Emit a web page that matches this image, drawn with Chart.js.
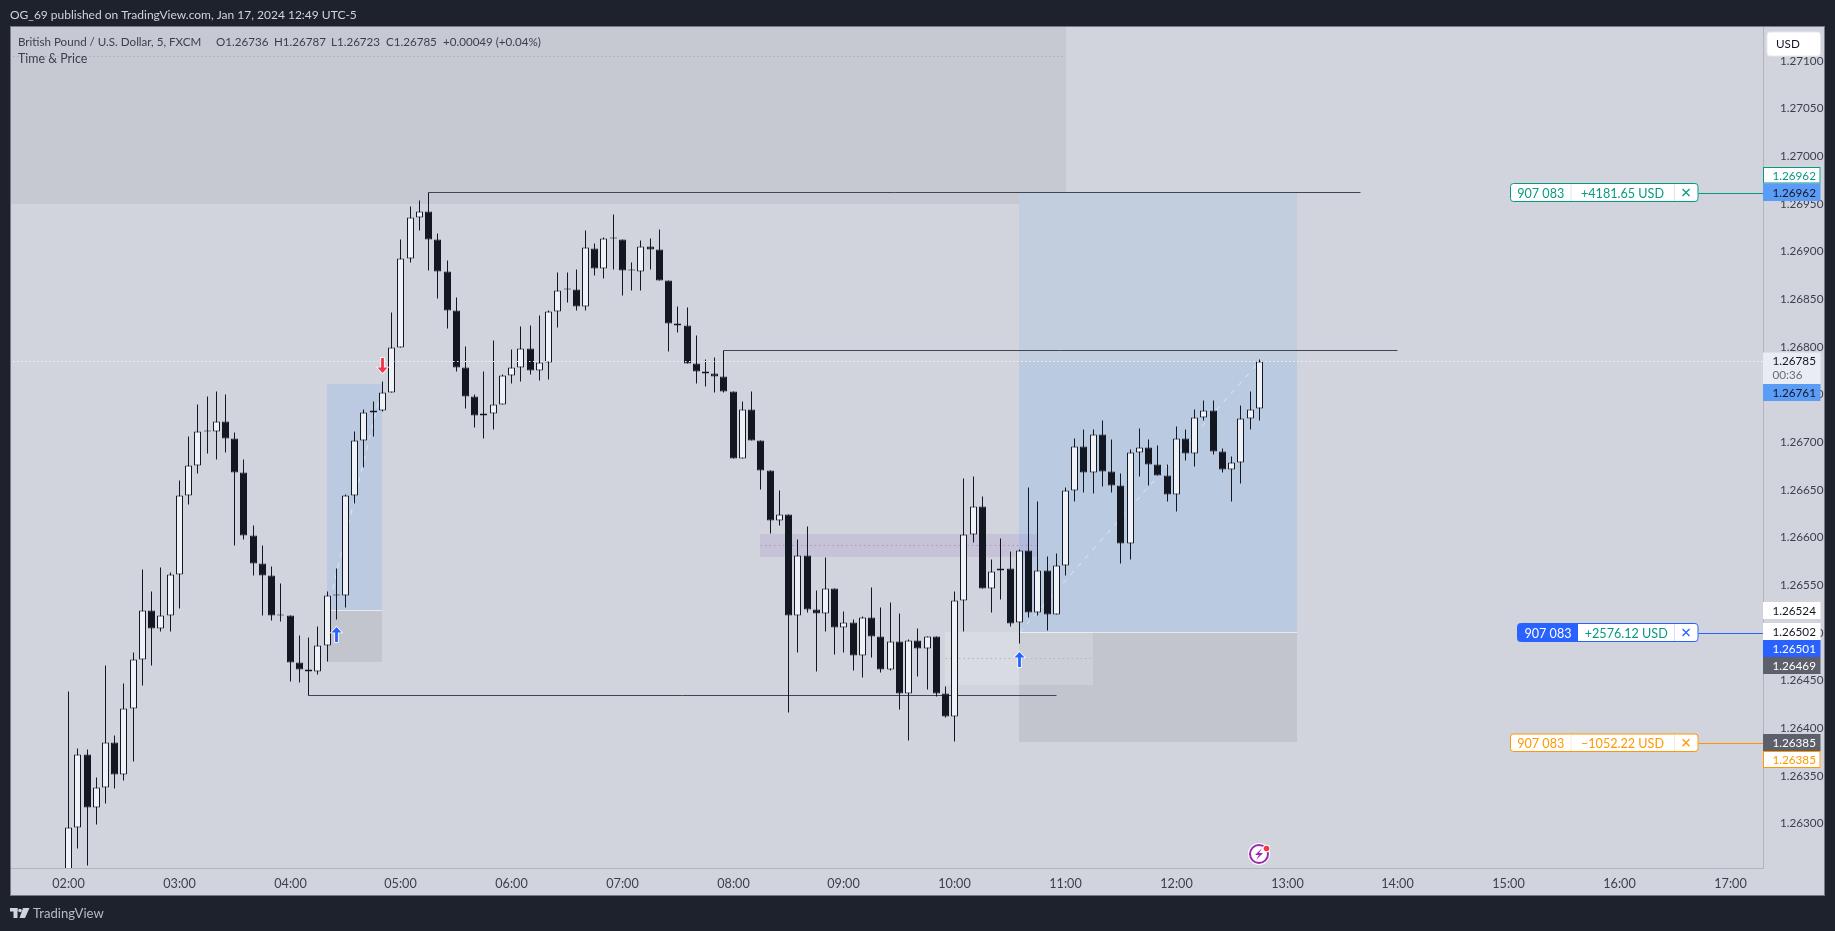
<!DOCTYPE html>
<html><head><meta charset="utf-8">
<style>html,body{margin:0;padding:0;background:#1e222d;overflow:hidden}canvas{display:block}</style>
<script src="https://cdn.jsdelivr.net/npm/chart.js@4"></script>
</head><body><div style="width:1835px;height:931px"><canvas id="c" width="1835" height="931"></canvas></div>
<script>
const startTime = '02:00';
const hourLabels = ['02:00','03:00','04:00','05:00','06:00','07:00','08:00','09:00','10:00','11:00','12:00','13:00','14:00','15:00','16:00','17:00'];
const priceTicks = [1.263,1.2635,1.264,1.2645,1.265,1.2655,1.266,1.2665,1.267,1.2675,1.268,1.2685,1.269,1.2695,1.27,1.2705,1.271];
const opens = [1.26241,1.26296,1.26373,1.26317,1.26338,1.26385,1.26352,1.26421,1.26472,1.26524,1.26505,1.26518,
1.26562,1.26644,1.26676,1.26712,1.26712,1.26722,1.26704,1.26669,1.26602,1.26573,1.26561,1.26519,
1.26519,1.26469,1.26462,1.26460,1.26487,1.26540,1.26540,1.26644,1.26702,1.26732,1.26734,1.26753,
1.26800,1.26893,1.26936,1.26942,1.26913,1.26879,1.26839,1.26779,1.26748,1.26728,1.26730,1.26740,
1.26770,1.26779,1.26799,1.26776,1.26784,1.26837,1.26861,1.26861,1.26843,1.26904,1.26883,1.26914,
1.26913,1.26880,1.26879,1.26906,1.26903,1.26870,1.26825,1.26823,1.26783,1.26774,1.26772,1.26769,
1.26754,1.26683,1.26735,1.26702,1.26671,1.26618,1.26624,1.26519,1.26581,1.26525,1.26521,1.26547,
1.26506,1.26511,1.26477,1.26516,1.26497,1.26462,1.26491,1.26437,1.26492,1.26484,1.26496,1.26437,
1.26413,1.26534,1.26604,1.26633,1.26547,1.26566,1.26568,1.26511,1.26587,1.26522,1.26566,1.26520,
1.26571,1.26650,1.26696,1.26669,1.26708,1.26670,1.26655,1.26594,1.26690,1.26695,1.26677,1.26665,
1.26645,1.26704,1.26689,1.26726,1.26734,1.26691,1.26672,1.26679,1.26725,1.26736];
const highs = [1.26439,1.26379,1.26378,1.26349,1.26466,1.26393,1.26447,1.26480,1.26567,1.26544,1.26569,1.26564,
1.26660,1.26706,1.26740,1.26748,1.26754,1.26750,1.26711,1.26682,1.26613,1.26592,1.26570,1.26552,
1.26519,1.26498,1.26495,1.26507,1.26544,1.26568,1.26645,1.26712,1.26735,1.26743,1.26764,1.26836,
1.26913,1.26948,1.26954,1.26962,1.26919,1.26891,1.26852,1.26801,1.26750,1.26774,1.26807,1.26771,
1.26798,1.26822,1.26823,1.26833,1.26838,1.26878,1.26878,1.26882,1.26922,1.26909,1.26915,1.26939,
1.26913,1.26889,1.26912,1.26914,1.26924,1.26870,1.26843,1.26842,1.26812,1.26787,1.26789,1.26797,
1.26754,1.26743,1.26754,1.26702,1.26671,1.26650,1.26624,1.26598,1.26612,1.26545,1.26579,1.26547,
1.26523,1.26514,1.26517,1.26548,1.26527,1.26532,1.26521,1.26493,1.26505,1.26497,1.26496,1.26444,
1.26544,1.26662,1.26664,1.26643,1.26577,1.26599,1.26586,1.26588,1.26653,1.26638,1.26580,1.26584,
1.26653,1.26704,1.26714,1.26714,1.26723,1.26703,1.26668,1.26693,1.26715,1.26703,1.26697,1.26677,
1.26717,1.26714,1.26735,1.26744,1.26744,1.26694,1.26685,1.26739,1.26754,1.26787];
const lows = [1.26230,1.26274,1.26256,1.26299,1.26321,1.26337,1.26345,1.26365,1.26445,1.26466,1.26502,1.26502,
1.26526,1.26635,1.26667,1.26689,1.26682,1.26690,1.26592,1.26598,1.26561,1.26519,1.26513,1.26512,
1.26449,1.26448,1.26435,1.26457,1.26470,1.26514,1.26527,1.26636,1.26674,1.26706,1.26733,1.26752,
1.26800,1.26889,1.26922,1.26880,1.26851,1.26820,1.26775,1.26736,1.26716,1.26704,1.26714,1.26740,
1.26762,1.26764,1.26771,1.26765,1.26766,1.26821,1.26847,1.26839,1.26839,1.26875,1.26872,1.26882,
1.26854,1.26859,1.26860,1.26881,1.26870,1.26796,1.26815,1.26783,1.26762,1.26759,1.26753,1.26753,
1.26683,1.26683,1.26702,1.26651,1.26605,1.26613,1.26417,1.26480,1.26522,1.26460,1.26502,1.26478,
1.26480,1.26461,1.26453,1.26474,1.26459,1.26461,1.26420,1.26387,1.26455,1.26441,1.26434,1.26411,
1.26386,1.26502,1.26595,1.26547,1.26522,1.26535,1.26507,1.26489,1.26516,1.26518,1.26503,1.26520,
1.26561,1.26638,1.26648,1.26646,1.26654,1.26648,1.26573,1.26577,1.26664,1.26655,1.26665,1.26638,
1.26628,1.26681,1.26675,1.26723,1.26687,1.26669,1.26638,1.26657,1.26714,1.26723];
const closes = [1.26296,1.26373,1.26317,1.26338,1.26385,1.26352,1.26421,1.26472,1.26524,1.26505,1.26518,1.26562,
1.26644,1.26676,1.26712,1.26712,1.26722,1.26704,1.26669,1.26602,1.26573,1.26561,1.26519,1.26519,
1.26469,1.26462,1.26460,1.26487,1.26540,1.26540,1.26644,1.26702,1.26732,1.26734,1.26753,1.26800,
1.26893,1.26936,1.26942,1.26913,1.26879,1.26839,1.26779,1.26748,1.26728,1.26730,1.26740,1.26770,
1.26779,1.26799,1.26776,1.26784,1.26837,1.26860,1.26861,1.26843,1.26905,1.26883,1.26914,1.26914,
1.26880,1.26880,1.26906,1.26903,1.26870,1.26825,1.26823,1.26783,1.26774,1.26772,1.26769,1.26754,
1.26683,1.26735,1.26702,1.26671,1.26618,1.26624,1.26519,1.26581,1.26525,1.26521,1.26547,1.26506,
1.26511,1.26477,1.26516,1.26497,1.26462,1.26491,1.26437,1.26492,1.26484,1.26496,1.26437,1.26413,
1.26534,1.26604,1.26633,1.26547,1.26565,1.26568,1.26510,1.26587,1.26522,1.26566,1.26520,1.26571,
1.26650,1.26696,1.26669,1.26708,1.26670,1.26655,1.26594,1.26690,1.26695,1.26677,1.26665,1.26645,
1.26704,1.26689,1.26726,1.26734,1.26691,1.26672,1.26679,1.26725,1.26735,1.26785];
const currentPrice = 1.26785;
/* drawn levels: [from time, to time, price] */
const swingLevels = [['05:15','13:40',1.26962],['07:55','14:00',1.26797],['04:10','10:55',1.26435]];
/* trade A (small long), trade B (large long) */
const tradeTarget = [1.26761,1.26962];
const tradeEntry = [1.26524,1.26501];
const tradeStop = [1.26469,1.26385];
const tradeFrom = ['04:20','10:35'];
const tradeTo = ['04:50','13:05.5'];
const resistanceBottom = 1.26950;
const purpleZone = [1.26604,1.26579];
const lightZone = [1.26501,1.26445];
const signalUp = [['04:25',1.26506],['10:35',1.26480]];
const signalDown = [['04:50',1.26772]];

const BG='#d1d4dc', DARK='#1e222d', INK='#131722', TXT='#3c3f4a', FONT='Lato';
const toMin = s => { const [h,m] = s.split(':').map(Number); return h*60+m; };
const t0 = toMin(startTime);
const candleX = opens.map((_,i)=> t0 + i*5);
const wickData = candleX.map((x,i)=>({x, y:[lows[i],highs[i]]}));
const bodyData = candleX.map((x,i)=>({x, y:[opens[i],closes[i]]}));
const up = i => closes[i] >= opens[i];

function rect(ctx,sc,a,b,p,q,fill){
  const x=sc.x.getPixelForValue(toMin(a))-0.5, x2=sc.x.getPixelForValue(toMin(b))-0.5;
  const y=sc.y.getPixelForValue(p), y2=sc.y.getPixelForValue(q);
  ctx.fillStyle=fill; ctx.fillRect(x,y,x2-x,y2-y);
}
function hDots(ctx,x1,x2,y,color,on,off){
  ctx.save(); ctx.strokeStyle=color; ctx.lineWidth=1; ctx.setLineDash([on,off]);
  ctx.beginPath(); ctx.moveTo(x1,y+.5); ctx.lineTo(x2,y+.5); ctx.stroke(); ctx.restore();
}
function arrow(ctx,x,tipY,dir,color){
  const d=dir, s=1.4, h=5.5, w=5, L=15;
  ctx.save();
  ctx.beginPath();
  ctx.moveTo(x,tipY);
  ctx.lineTo(x+w,tipY-d*h);
  ctx.lineTo(x+s,tipY-d*h);
  ctx.lineTo(x+s,tipY-d*L);
  ctx.lineTo(x-s,tipY-d*L);
  ctx.lineTo(x-s,tipY-d*h);
  ctx.lineTo(x-w,tipY-d*h);
  ctx.closePath();
  ctx.strokeStyle='rgba(255,255,255,.95)'; ctx.lineWidth=1.6; ctx.stroke();
  ctx.fillStyle=color; ctx.fill();
  ctx.restore();
}
function label(ctx,y1,y2,txt,fill,col,border){
  ctx.fillStyle=fill; ctx.fillRect(1763,y1,57.5,y2-y1);
  if(border){ctx.strokeStyle=border;ctx.lineWidth=1;ctx.strokeRect(1763.5,y1+.5,56.5,y2-y1-1);}
  ctx.fillStyle=col; ctx.font='11.7px '+FONT; ctx.textAlign='left'; ctx.textBaseline='middle';
  ctx.fillText(txt,1772.5,(y1+y2)/2+.5);
}
function rr(ctx,x,y,w,h,r){ctx.beginPath();ctx.roundRect(x,y,w,h,r);}
function order(ctx,x1,y1,y2,col,qty,pnl,pnlCol,solid,sep1){
  const x2=1698.5, cy=(y1+y2)/2;
  ctx.strokeStyle=col; ctx.lineWidth=1;
  ctx.beginPath(); ctx.moveTo(x2,Math.round(cy)+.5); ctx.lineTo(1763,Math.round(cy)+.5); ctx.stroke();
  rr(ctx,x1+.5,y1+.5,x2-x1-1,y2-y1-1,3); ctx.fillStyle='#fff'; ctx.fill();
  if(solid){ ctx.save(); rr(ctx,x1+.5,y1+.5,x2-x1-1,y2-y1-1,3); ctx.clip(); ctx.fillStyle=col; ctx.fillRect(x1,y1,sep1-x1,y2-y1); ctx.restore(); }
  rr(ctx,x1+.5,y1+.5,x2-x1-1,y2-y1-1,3); ctx.stroke();
  ctx.save(); ctx.globalAlpha=.2; ctx.strokeStyle=col; ctx.beginPath();
  if(!solid){ctx.moveTo(sep1+.5,y1+1);ctx.lineTo(sep1+.5,y2-1);}
  ctx.moveTo(1674.5,y1+1);ctx.lineTo(1674.5,y2-1);ctx.stroke();ctx.restore();
  ctx.font='12.6px '+FONT; ctx.textBaseline='middle'; ctx.textAlign='center';
  ctx.fillStyle=solid?'#fff':col; ctx.fillText(qty,(x1+sep1)/2+.5,cy+1);
  ctx.fillStyle=pnlCol; ctx.fillText(pnl,(sep1+1674.5)/2,cy+1);
  ctx.strokeStyle=col; ctx.lineWidth=1.3; ctx.beginPath();
  ctx.moveTo(1682.5,cy-3.5);ctx.lineTo(1689.5,cy+3.5);ctx.moveTo(1689.5,cy-3.5);ctx.lineTo(1682.5,cy+3.5);ctx.stroke();
}

const backdrop = {
  id:'backdrop',
  beforeDraw(ch){
    const c=ch.ctx; c.save();
    c.fillStyle=DARK; c.fillRect(0,0,1835,931);
    c.fillStyle=BG; c.fillRect(10,27,1814,868);
    c.strokeStyle='#787b86'; c.lineWidth=1; c.strokeRect(10.5,26.5,1814,869);
    c.restore();
  },
  beforeDatasetsDraw(ch){
    const c=ch.ctx, s=ch.scales, a=ch.chartArea; c.save();
    c.beginPath(); c.rect(a.left,a.top,a.width,a.height); c.clip();
    c.fillStyle='#c6c9d2';
    { const x2=s.x.getPixelForValue(toMin('11:00.5'))-0.5, y=s.y.getPixelForValue(resistanceBottom);
      c.fillRect(a.left,a.top,x2-a.left,y-a.top); }
    hDots(c,a.left+2,s.x.getPixelForValue(toMin('11:00')),56,'#a9acb5',1.5,2.5);
    tradeFrom.forEach((f,i)=>{
      const g = i===0 ? '#bbcae0' : '#c2cddd';
      rect(c,s,f,tradeTo[i],tradeEntry[i],tradeTarget[i],g);
      if(i===1) rect(c,s,f,tradeTo[i],tradeEntry[i],currentPrice,'#bacae1');
      rect(c,s,f,tradeTo[i],tradeStop[i],tradeEntry[i],'#c2c5ce');
      const x=s.x.getPixelForValue(toMin(f))-0.5, x2=s.x.getPixelForValue(toMin(tradeTo[i]))-0.5, y=s.y.getPixelForValue(tradeEntry[i]);
      c.fillStyle='#e6e9f0'; c.fillRect(x,y,x2-x,1);
    });
    rect(c,s,'09:55','11:15',lightZone[1],lightZone[0],'rgba(255,255,255,.18)');
    hDots(c,s.x.getPixelForValue(toMin('09:55')),s.x.getPixelForValue(toMin('11:15')),s.y.getPixelForValue((lightZone[0]+lightZone[1])/2),'#b2b5be',1.5,3);
    rect(c,s,'08:15','10:45',purpleZone[1],purpleZone[0],'rgba(109,52,200,.1)');
    hDots(c,s.x.getPixelForValue(toMin('08:15')),s.x.getPixelForValue(toMin('10:45')),s.y.getPixelForValue((purpleZone[0]+purpleZone[1])/2),'#ab9db9',1.5,3);
    c.restore();
  },
  afterDraw(ch){
    const c=ch.ctx, s=ch.scales, a=ch.chartArea; c.save();
    hDots(c,a.left+2,a.right,s.y.getPixelForValue(currentPrice),'#f4f5f8',1.5,2.5);
    signalUp.forEach(([t,p])=>arrow(c,s.x.getPixelForValue(toMin(t)),s.y.getPixelForValue(p),-1,'#2962ff'));
    signalDown.forEach(([t,p])=>arrow(c,s.x.getPixelForValue(toMin(t)),s.y.getPixelForValue(p),1,'#f23645'));
    c.textBaseline='middle'; c.textAlign='left';
    c.fillStyle='#d1d4dc'; c.font='12px '+FONT;
    c.fillText('OG_69 published on TradingView.com, Jan 17, 2024 12:49 UTC-5',10,15);
    c.fillStyle=TXT; c.font='11.6px '+FONT;
    c.fillText('British Pound / U.S. Dollar, 5, FXCM',18,42);
    [['O1.26736',216],['H1.26787',274],['L1.26723',331],['C1.26785',386],['+0.00049 (+0.04%)',443]].forEach(([t,x])=>c.fillText(t,x,42));
    c.font='12.4px '+FONT;
    c.fillText('Time & Price',18,59);
    c.fillStyle='#d1d4dc';
    c.fillRect(10,908,7.5,3.5); c.fillRect(13.5,908,4,10); c.beginPath(); c.arc(20,910.5,1.8,0,7); c.fill();
    c.beginPath(); c.moveTo(23,908);c.lineTo(29.5,908);c.lineTo(25,918);c.lineTo(19.5,918);c.closePath(); c.fill();
    c.fillStyle='#b8bbc4'; c.font='13.1px '+FONT; c.fillText('TradingView',33,913.5);
    rr(c,1767,32,53.5,24,3); c.fillStyle='#fff'; c.fill(); c.strokeStyle='#e6e8ee'; c.stroke();
    c.fillStyle=INK; c.font='11.7px '+FONT; c.fillText('USD',1776,44.5);
    label(c,167,183.5,'1.26962','#fff','#089981','#089981');
    label(c,183.5,201,'1.26962','#5b9cf6',INK);
    c.fillStyle='#e9ecf2'; c.fillRect(1763,352.5,57.5,31.5);
    c.fillStyle=INK; c.font='11.7px '+FONT; c.fillText('1.26785',1772.5,361.5);
    c.fillStyle='#6a6d78'; c.fillText('00:36',1772.5,375.5);
    label(c,384,401,'1.26761','#5b9cf6',INK);
    label(c,602,619,'1.26524','#fff',INK);
    label(c,623,640,'1.26502','#fff',INK);
    label(c,640,657,'1.26501','#2962ff','#fff');
    label(c,657,674,'1.26469','#5d606b','#fff');
    label(c,734,751,'1.26385','#5d606b','#fff');
    label(c,751,768,'1.26385','#fff','#ff9800','#ff9800');
    order(c,1510,183,202,'#089981','907 083','+4181.65 USD','#089981',false,1570.5);
    order(c,1517,623,642,'#2962ff','907 083','+2576.12 USD','#089981',true,1578);
    order(c,1510,733.5,752,'#ff9800','907 083','\u22121052.22 USD','#ff9800',false,1570.5);
    c.beginPath(); c.arc(1259,854,11,0,7); c.fillStyle='#fff'; c.fill();
    c.beginPath(); c.arc(1259,854,9,0,7); c.strokeStyle='#9c27b0'; c.lineWidth=2; c.stroke();
    c.fillStyle='#9c27b0'; c.beginPath(); c.moveTo(1262,848);c.lineTo(1255,855);c.lineTo(1259,855);c.lineTo(1256,860);c.lineTo(1263,853);c.lineTo(1259,853);c.closePath(); c.fill();
    c.beginPath(); c.arc(1266.5,848.5,3.8,0,7); c.fillStyle='#fff'; c.fill();
    c.beginPath(); c.arc(1266.5,848.5,2.8,0,7); c.fillStyle='#f23645'; c.fill();
    c.restore();
  }
};

const levelSets = swingLevels.map(([a,b,p])=>({
  type:'line', yAxisID:'yLine', data:[{x:toMin(a),y:p},{x:toMin(b),y:p}], borderColor:'#434651', borderWidth:1,
  pointRadius:0, order:5
}));
const diagonalSets = [
  {from:[tradeFrom[0],tradeEntry[0]],to:['04:50',tradeTarget[0]]},
  {from:[tradeFrom[1],tradeEntry[1]],to:['12:45',currentPrice]}
].map(d=>({
  type:'line', data:[{x:toMin(d.from[0]),y:d.from[1]},{x:toMin(d.to[0]),y:d.to[1]}],
  borderColor:'rgba(255,255,255,.55)', borderWidth:1, borderDash:[5,6], pointRadius:0, order:6
}));
const yMin=1.262531, yMax=1.271354;

new Chart(document.getElementById('c'),{
  type:'bar',
  data:{datasets:[
    {label:'Wick',data:wickData,grouped:false,barThickness:1,backgroundColor:INK,borderWidth:0,inflateAmount:0,order:3},
    {label:'GBPUSD',data:bodyData,grouped:false,barThickness:7,minBarLength:1,inflateAmount:0,
     backgroundColor:candleX.map((_,i)=>up(i)?'#eef1f6':INK),borderColor:INK,borderWidth:1,borderSkipped:false,order:2},
    ...levelSets,...diagonalSets
  ]},
  plugins:[backdrop],
  options:{
    responsive:false,animation:false,devicePixelRatio:1,
    layout:{padding:{left:11,top:27,right:11,bottom:36}},
    plugins:{legend:{display:false},tooltip:{enabled:false}},
    scales:{
      x:{type:'linear',offset:false,min:88.81,max:1037.8,grid:{display:false},
        border:{color:'#b2b5be'},
        afterFit(sc){ sc.height=27;
          if(!sc._wrapped){ sc._wrapped=true; const o=sc.getPixelForValue.bind(sc); sc.getPixelForValue=v=>Math.floor(o(v))+.5; } },
        afterBuildTicks(sc){ sc.ticks=hourLabels.map(h=>({value:toMin(h)})); },
        ticks:{autoSkip:false,maxRotation:0,minRotation:0,padding:0,color:TXT,font:{family:FONT,size:12.6},
          callback(v){ const h=Math.floor(v/60); return String(h).padStart(2,'0')+':00'; }}
      },
      yLine:{type:'linear',display:false,min:yMin,max:yMax,beginAtZero:false,
        afterFit(sc){ if(!sc._wrapped){ sc._wrapped=true; const o=sc.getPixelForValue.bind(sc); sc.getPixelForValue=v=>Math.round(o(v))+.5; } } },
      y:{type:'linear',position:'right',min:yMin,max:yMax,beginAtZero:false,
        grid:{display:false},border:{color:'#b2b5be'},
        afterFit(sc){ sc.width=61;
          if(!sc._wrapped){ sc._wrapped=true; const o=sc.getPixelForValue.bind(sc); sc.getPixelForValue=v=>Math.round(o(v)); } },
        afterBuildTicks(sc){ sc.ticks=priceTicks.map(v=>({value:v})); },
        ticks:{autoSkip:false,padding:9,labelOffset:.5,color:TXT,font:{family:FONT,size:11.7},
          callback(v){ return v.toFixed(5); }}
      }
    }
  }
});
</script></body></html>
